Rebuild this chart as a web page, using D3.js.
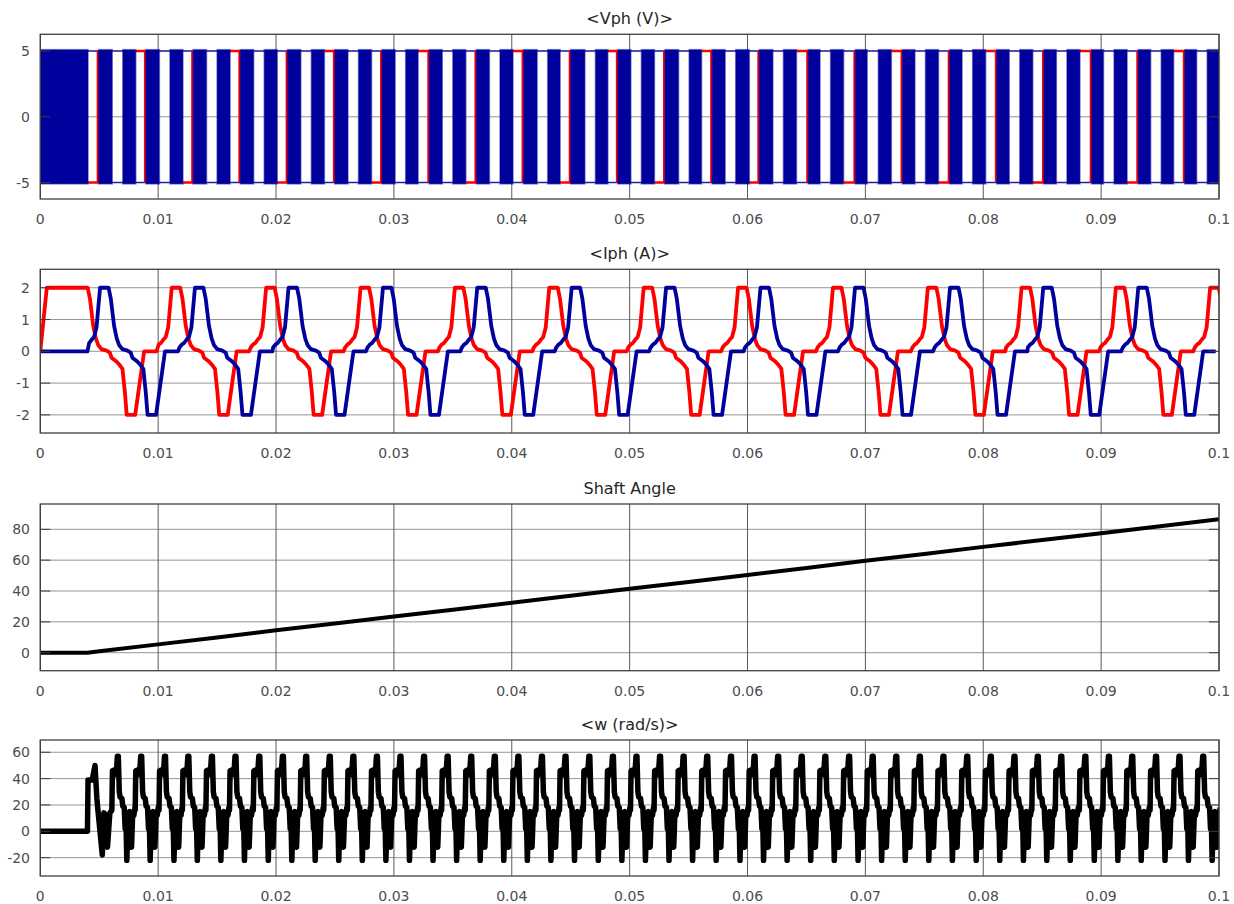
<!DOCTYPE html>
<html>
<head>
<meta charset="utf-8">
<script src="https://cdn.jsdelivr.net/npm/d3@7"></script>
<style>
body { margin: 0; background: #fff; }
text { font-family: "DejaVu Sans", "Liberation Sans", Arial, sans-serif; }
</style>
</head>
<body>
<script>
// x axis (seconds)
var xTicks = [0, 0.01, 0.02, 0.03, 0.04, 0.05, 0.06, 0.07, 0.08, 0.09, 0.1];

// y ticks per panel
var vphTicks = [-5, 0, 5];
var iphTicks = [-2, -1, 0, 1, 2];
var angleTicks = [0, 20, 40, 60, 80];
var wTicks = [-20, 0, 20, 40, 60];

// Vph: white gaps in the blue PWM band, [start, end] in ms
var vphGaps = [
  [4.05, 4.95], [6.1, 7.0], [8.1, 8.96], [10.1, 11.0], [12.1, 12.97], [14.1, 15.0],
  [16.1, 16.97], [18.1, 19.0], [20.1, 20.98], [22.1, 23.0], [24.1, 24.99], [26.1, 27.0],
  [28.1, 28.99], [30.1, 31.0], [32.05, 33.0], [34.1, 35.0], [36.1, 37.0], [38.1, 39.0],
  [40.1, 41.0], [42.15, 43.05], [44.1, 45.0], [46.2, 47.1], [48.15, 49.0], [50.1, 51.0],
  [52.1, 53.0], [54.15, 55.05], [56.1, 57.0], [58.1, 59.0], [60.15, 61.0], [62.15, 63.05],
  [64.15, 65.15], [66.15, 67.05], [68.15, 69.15], [70.15, 71.1], [72.2, 73.15], [74.2, 75.1],
  [76.2, 77.15], [78.2, 79.1], [80.2, 81.15], [82.2, 83.1], [84.2, 85.15], [86.2, 87.1],
  [88.2, 89.2], [90.2, 91.1], [92.2, 93.15], [94.2, 95.1], [96.15, 97.1], [98.1, 99.0]
];
// red phase voltage switching edges: [time ms, level before edge]
var vphRedEdges = [
  [4.95, -5], [8.96, 5], [12.97, -5], [16.97, 5], [20.98, -5], [24.99, 5],
  [28.99, -5], [33.0, 5], [37.0, -5], [41.0, 5], [45.0, -5], [49.0, 5],
  [53.0, -5], [57.0, 5], [61.0, -5], [65.15, 5], [69.15, -5], [73.15, 5],
  [77.15, -5], [81.15, 5], [85.15, -5], [89.2, 5], [93.15, -5], [97.1, 5]
];

// Iph: one current cycle [ms relative to start of +2 plateau, A]
var iphShape = [
  [-1.44, 0], [-1.31, 0.12], [-1.10, 0.22], [-0.93, 0.26], [-0.72, 0.36], [-0.51, 0.45],
  [-0.30, 0.75], [0, 2], [0.72, 2], [0.91, 1.66], [1.19, 0.8], [1.42, 0.4], [1.61, 0.2],
  [1.89, 0.07], [2.32, 0.02], [2.60, -0.04], [2.74, -0.2], [3.16, -0.32], [3.45, -0.44],
  [3.67, -0.55], [3.88, -1.3], [4.03, -2], [4.75, -2], [5.51, 0], [6.57, 0]
];
var iphRedStart = [[0, 0], [0.55, 2], [3.3, 2]];
var iphRedCycles = [3.3, 11.15, 19.16, 27.17, 35.17, 43.18, 51.19, 59.2, 67.25, 75.3, 83.25, 91.25, 99.25];
var iphBlueStart = [[0, 0], [4.0, 0]];
var iphBlueCycles = [5.07, 13.12, 21.06, 29.07, 37.07, 45.08, 53.09, 61.1, 69.12, 77.18, 85.09, 93.15];

// Shaft angle [ms, deg]
var angleData = [
  [0, 0], [4, 0], [5, 0.9], [10, 5.4], [15, 9.9], [20, 14.5], [25, 18.9], [30, 23.4],
  [35, 27.9], [40, 32.4], [45, 36.9], [50, 41.4], [55, 45.9], [60, 50.4], [65, 54.9],
  [70, 59.6], [75, 64.0], [80, 68.6], [85, 73.0], [90, 77.4], [95, 82.0], [100, 86.5]
];

// w: one speed ripple [ms relative to tall peak, rad/s]
var wShape = [
  [-0.55, 16], [-0.5, 46], [-0.25, 47], [-0.18, 43], [-0.08, 57], [0, 57], [0.08, 30],
  [0.15, 26], [0.3, 25], [0.38, 19], [0.5, 18], [0.58, 2], [0.64, 12], [0.72, -22],
  [0.84, 14], [0.95, 15], [1.05, -5], [1.12, -12], [1.22, 14], [1.32, 12], [1.4, 18]
];
var wStart = [
  [0, 0], [4.0, 0], [4.05, 39], [4.4, 39], [4.64, 50], [4.8, 25], [4.9, 15], [5.26, -18],
  [5.4, 14], [5.55, 12], [5.7, -12], [5.9, 14]
];
var wPeaks = [
  6.62, 8.6, 10.62, 12.6, 14.6, 16.6, 18.62, 20.62, 22.6, 24.6, 26.6, 28.6, 30.6, 32.6,
  34.6, 36.6, 38.6, 40.6, 42.6, 44.6, 46.62, 48.62, 50.62, 52.62, 54.62, 56.62, 58.64,
  60.64, 62.64, 64.64, 66.64, 68.66, 70.66, 72.66, 74.66, 76.66, 78.68, 80.68, 82.69,
  84.67, 86.66, 88.7, 90.7, 92.68, 94.7, 96.69, 98.7
];

var blue = "#00009c";
var red = "#ff0000";

var svg = d3.select("body").append("svg")
    .attr("width", 1234)
    .attr("height", 904);

var x = d3.scaleLinear().domain([0, 0.1]).range([40.3, 1219]);

// repeat a cycle shape at the cycle times
function cycles(start, shape, times) {
    var pts = start.map(function (d) { return [d[0], d[1]]; });
    times.forEach(function (s) {
        shape.forEach(function (d) {
            var t = s + d[0];
            if (t > pts[pts.length - 1][0]) pts.push([t, d[1]]);
        });
    });
    return pts.map(function (d) { return [d[0] / 1000, d[1]]; });
}

function panel(id, title, top, bottom, domain, ticks) {
    var y = d3.scaleLinear().domain(domain).range([bottom, top]);
    var g = svg.append("g");

    g.append("clipPath").attr("id", "clip" + id)
        .append("rect")
        .attr("x", x(0)).attr("y", top)
        .attr("width", x(0.1) - x(0)).attr("height", bottom - top);

    // grid
    g.selectAll(".hg").data(ticks).enter().append("line")
        .attr("x1", x(0)).attr("x2", x(0.1))
        .attr("y1", function (d) { return y(d); })
        .attr("y2", function (d) { return y(d); })
        .attr("stroke", "#969696").attr("stroke-width", 1);
    g.selectAll(".vg").data(xTicks).enter().append("line")
        .attr("x1", function (d) { return x(d); })
        .attr("x2", function (d) { return x(d); })
        .attr("y1", top).attr("y2", bottom)
        .attr("stroke", "#5a5a5a").attr("stroke-width", 1);

    var plot = g.append("g").attr("clip-path", "url(#clip" + id + ")");
    var front = g.append("g");

    // box + inward ticks
    front.append("rect")
        .attr("x", x(0)).attr("y", top)
        .attr("width", x(0.1) - x(0)).attr("height", bottom - top)
        .attr("fill", "none").attr("stroke", "#404040").attr("stroke-width", 1.3);
    ticks.forEach(function (d) {
        front.append("line").attr("x1", x(0)).attr("x2", x(0) + 10)
            .attr("y1", y(d)).attr("y2", y(d)).attr("stroke", "#3c3c3c");
        front.append("line").attr("x1", x(0.1) - 10).attr("x2", x(0.1))
            .attr("y1", y(d)).attr("y2", y(d)).attr("stroke", "#3c3c3c");
    });

    // labels
    front.selectAll(".yl").data(ticks).enter().append("text")
        .attr("x", 30).attr("y", function (d) { return y(d) + 5; })
        .attr("text-anchor", "end")
        .attr("font-size", 14).attr("fill", "#4d4d4d")
        .text(function (d) { return d; });
    front.selectAll(".xl").data(xTicks).enter().append("text")
        .attr("x", function (d) { return x(d); })
        .attr("y", bottom + 25)
        .attr("text-anchor", "middle")
        .attr("font-size", 14).attr("fill", "#4d4d4d")
        .text(function (d) { return d; });
    front.append("text")
        .attr("x", (x(0) + x(0.1)) / 2).attr("y", top - 10)
        .attr("text-anchor", "middle")
        .attr("font-size", 16).attr("fill", "#262626")
        .text(title);

    return { y: y, plot: plot };
}

// ---- <Vph (V)> ----
var p1 = panel(1, "<Vph (V)>", 34.3, 199, [-6.25, 6.27], vphTicks);
var bursts = [];
var t0 = 0;
vphGaps.forEach(function (gp) {
    bursts.push([t0, gp[0]]);
    t0 = gp[1];
});
bursts.push([t0, 100]);

vphGaps.forEach(function (gp) {
    var edge = vphRedEdges.find(function (e) { return Math.abs(e[0] - gp[1]) < 0.05; });
    var levels = edge ? [-edge[1]] : [5, -5];
    levels.forEach(function (lv) {
        p1.plot.append("line")
            .attr("x1", x(gp[0] / 1000)).attr("x2", x(gp[1] / 1000) + 0.5)
            .attr("y1", p1.y(lv)).attr("y2", p1.y(lv))
            .attr("stroke", blue).attr("stroke-opacity", 0.8).attr("stroke-width", 1.6);
    });
    if (edge) {
        p1.plot.append("path")
            .attr("d", d3.line()([
                [x(gp[0] / 1000), p1.y(edge[1])],
                [x(gp[1] / 1000) - 0.8, p1.y(edge[1])],
                [x(gp[1] / 1000) - 0.8, p1.y(-edge[1])]
            ]))
            .attr("fill", "none").attr("stroke", red).attr("stroke-width", 2.4);
    }
});

// PWM bursts drawn last (blue trace on top), with a soft fringe
p1.plot.selectAll(".burst").data(bursts).enter().append("rect")
    .attr("x", function (d) { return x(d[0] / 1000); })
    .attr("width", function (d) { return x(d[1] / 1000) - x(d[0] / 1000); })
    .attr("y", p1.y(5.1))
    .attr("height", p1.y(-5.1) - p1.y(5.1))
    .attr("fill", blue)
    .attr("stroke", blue).attr("stroke-opacity", 0.45).attr("stroke-width", 1.6);

// ---- <Iph (A)> ----
var p2 = panel(2, "<Iph (A)>", 269.3, 433, [-2.57, 2.58], iphTicks);
var iLine = d3.line()
    .x(function (d) { return x(d[0]); })
    .y(function (d) { return p2.y(d[1]); });
p2.plot.append("path")
    .attr("d", iLine(cycles(iphRedStart, iphShape, iphRedCycles)))
    .attr("fill", "none").attr("stroke", red)
    .attr("stroke-width", 3.8).attr("stroke-linejoin", "round");
p2.plot.append("path")
    .attr("d", iLine(cycles(iphBlueStart, iphShape, iphBlueCycles)))
    .attr("fill", "none").attr("stroke", blue)
    .attr("stroke-width", 3.8).attr("stroke-linejoin", "round");

// ---- Shaft Angle ----
var p3 = panel(3, "Shaft Angle", 504, 670.7, [-11.67, 96.4], angleTicks);
p3.plot.append("path")
    .attr("d", d3.line()
        .x(function (d) { return x(d[0] / 1000); })
        .y(function (d) { return p3.y(d[1]); })(angleData))
    .attr("fill", "none").attr("stroke", "#000")
    .attr("stroke-width", 4).attr("stroke-linejoin", "round");

// ---- <w (rad/s)> ----
var p4 = panel(4, "<w (rad/s)>", 740, 876, [-33.9, 69.3], wTicks);
p4.plot.append("path")
    .attr("d", d3.line()
        .x(function (d) { return x(d[0]); })
        .y(function (d) { return p4.y(d[1]); })(cycles(wStart, wShape, wPeaks)))
    .attr("fill", "none").attr("stroke", "#000")
    .attr("stroke-width", 5.5).attr("stroke-linejoin", "round");
</script>
</body>
</html>
